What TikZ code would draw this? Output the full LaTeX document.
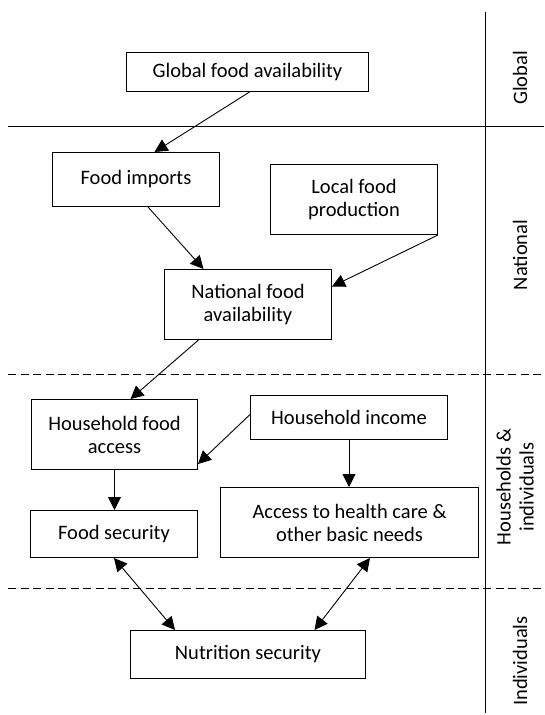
\documentclass[tikz,border=0pt]{standalone}
\usepackage{fontspec}
\setmainfont{Carlito}
\usetikzlibrary{arrows.meta,calc}
\newcommand{\txtsize}{\fontsize{20.5}{23}\selectfont}
\tikzset{
  box/.style={draw, line width=1pt, align=center, inner sep=0pt, anchor=north west, font=\txtsize},
  lab/.style={align=center, inner sep=0pt, rotate=90, font=\txtsize},
  arr/.style={line width=0.9pt, -{Triangle[length=13pt,width=13pt]}},
  darr/.style={line width=0.9pt, {Triangle[length=13pt,width=13pt]}-{Triangle[length=13pt,width=13pt]}},
  sep/.style={line width=1pt},
  dsep/.style={line width=1pt, dash pattern=on 8pt off 4.5pt},
}
\begin{document}
\begin{tikzpicture}[x=1pt,y=-1pt]
\useasboundingbox (0,0) rectangle (544,715);
% separators
\coordinate (vt) at (485,12);
\coordinate (vb) at (485,713);
\coordinate (h1l) at (8,126);
\coordinate (h1r) at (544,126);
\coordinate (h2l) at (8,374);
\coordinate (h2r) at (544,374);
\coordinate (h3l) at (8,588);
\coordinate (h3r) at (544,588);
\draw[sep] (vt) -- (vb);
\draw[sep] (h1l) -- (h1r);
\draw[dsep] (h2l) -- (h2r);
\draw[dsep] (h3l) -- (h3r);
% level labels
\node[lab] (lglob) at (520,78) {Global};
\node[lab] (lnat) at (520,255) {National};
\node[lab] (lhh) at (515,487) {Households \&\\individuals};
\node[lab] (lind) at (520,661) {Individuals};
% boxes
\node[box, minimum width=242pt, minimum height=39pt] (glob) at (126,52) {Global food availability};
\node[box, minimum width=167pt, minimum height=54pt] (fi) at (52,152) {Food imports};
\node[box, minimum width=167pt, minimum height=70pt] (lfp) at (270,164) {Local food\\production};
\node[box, minimum width=167pt, minimum height=70pt] (nat) at (164,269) {National food\\availability};
\node[box, minimum width=166pt, minimum height=70pt] (hfa) at (31,399) {Household food\\access};
\node[box, minimum width=197pt, minimum height=44pt] (hi) at (250,395) {Household income};
\node[box, minimum width=167pt, minimum height=47pt] (fs) at (30,510) {Food security};
\node[box, minimum width=258pt, minimum height=70pt] (acc) at (220,487) {Access to health care \&\\other basic needs};
\node[box, minimum width=235pt, minimum height=48pt] (ns) at (130,630) {Nutrition security};
% connectors
\draw[arr] ([xshift=2pt]glob.south) -- ([xshift=18.5pt]fi.north);
\draw[arr] ([xshift=12pt]fi.south) -- ([xshift=-44.5pt]nat.north);
\draw[arr] (lfp.south east) -- ([yshift=18pt]nat.east);
\draw[arr] ([xshift=-49.5pt]nat.south) -- ([xshift=16pt]hfa.north);
\draw[arr] ([yshift=3pt]hi.west) -- ([yshift=-29.5pt]hfa.east);
\draw[arr] (hi.south) -- (hi.south |- acc.north);
\draw[arr] (hfa.south) -- (hfa.south |- fs.north);
\draw[darr] (fs.south) -- ([xshift=-73pt]ns.north);
\draw[darr] ([xshift=20.5pt]acc.south) -- ([xshift=66.5pt]ns.north);
\end{tikzpicture}
\end{document}
